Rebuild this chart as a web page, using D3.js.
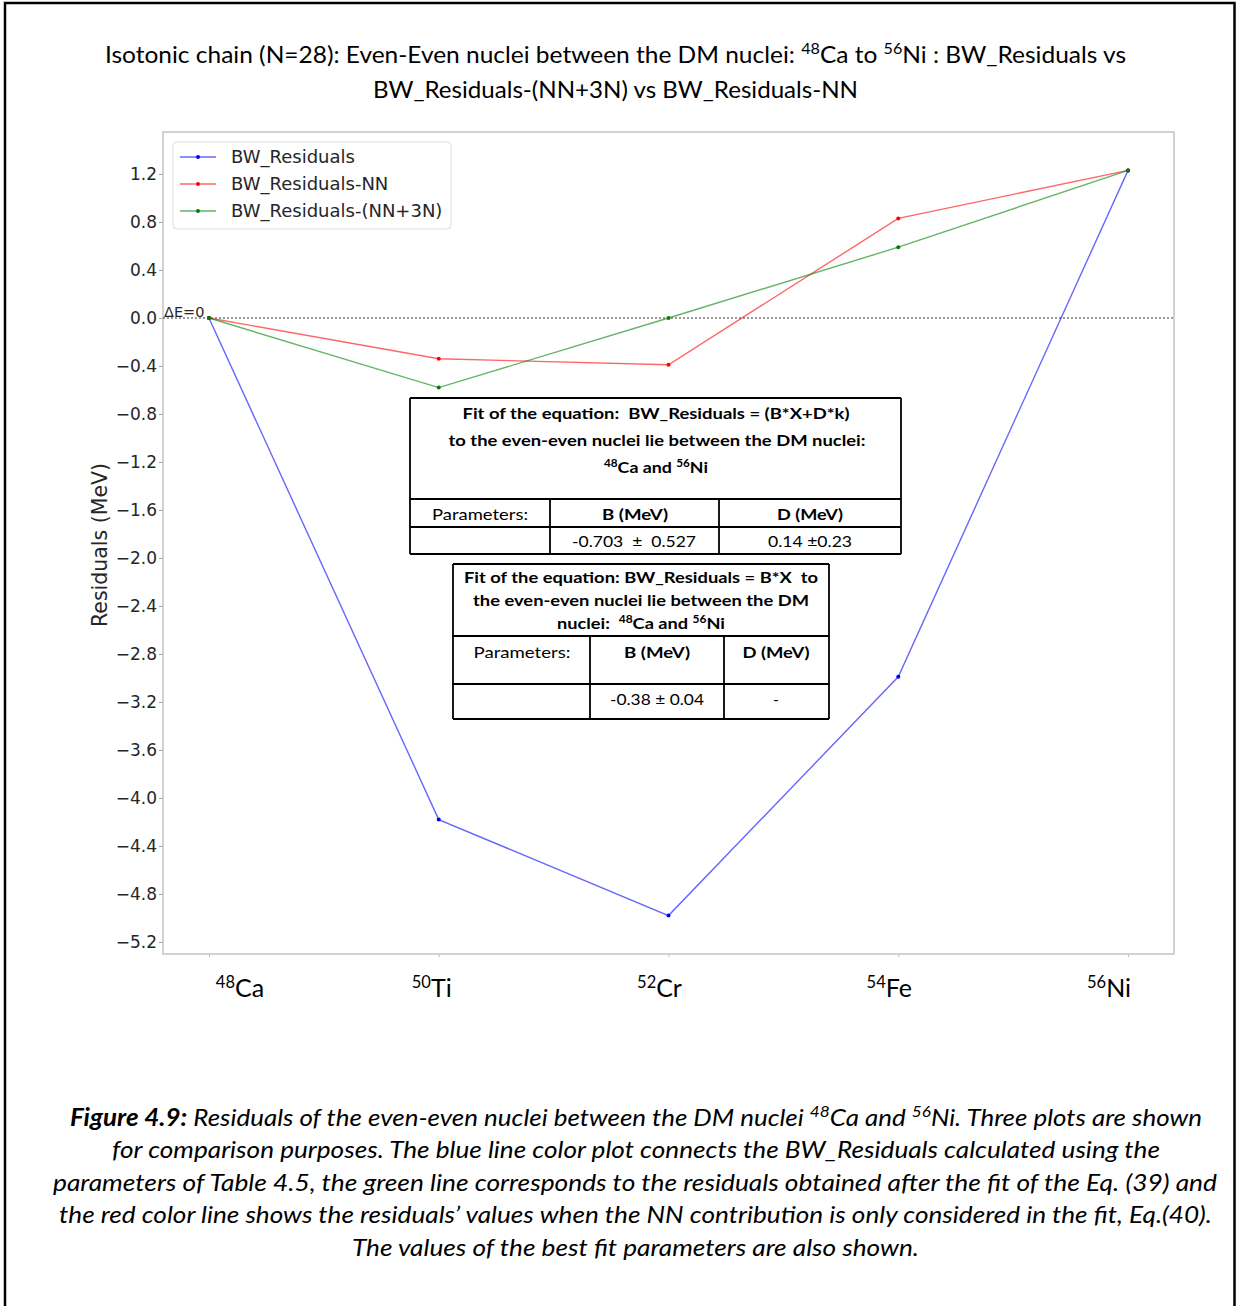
<!DOCTYPE html>
<html>
<head>
<meta charset="utf-8">
<script src="https://cdn.jsdelivr.net/npm/d3@7"></script>
<style>
  body { margin: 0; background: #fff; }
  svg { display: block; }
  text { white-space: pre; }
</style>
</head>
<body>
<script>
// values
const nuclei = ['Ca', 'Ti', 'Cr', 'Fe', 'Ni'];
const massNumbers = ['48', '50', '52', '54', '56'];
const bwResiduals = [0.0, -4.18, -4.98, -2.99, 1.23];
const bwResidualsNN = [0.0, -0.34, -0.39, 0.83, 1.23];
const bwResidualsNN3N = [0.0, -0.58, 0.0, 0.59, 1.23];
const yTicks = [-5.2, -4.8, -4.4, -4.0, -3.6, -3.2, -2.8, -2.4, -2.0, -1.6, -1.2, -0.8, -0.4, 0.0, 0.4, 0.8, 1.2];
const seriesNames = ['BW_Residuals', 'BW_Residuals-NN', 'BW_Residuals-(NN+3N)'];
const seriesColors = ['blue', 'red', 'green'];
const labelNudge = [31, -7, -9, -9, -19];

const W = 1236, H = 1306;
const plotFont = '"DejaVu Sans", sans-serif';
const docFont = 'Lato, "Open Sans", sans-serif';
const ink = '#262626';

const svg = d3.select('body').append('svg')
    .attr('width', W)
    .attr('height', H);

svg.append('rect').attr('width', W).attr('height', H).attr('fill', '#fff');

// page frame
svg.append('path')
    .attr('d', 'M5,1306 V3 H1234.5 V1306')
    .attr('fill', 'none')
    .attr('stroke', '#000')
    .attr('stroke-width', 2.5);

// text with superscripts: parts = [[text, isSup], ...]
function rich(sel, parts, size) {
    let raised = false;
    parts.forEach(p => {
        const ts = sel.append('tspan').text(p[0]);
        if (p[1] && !raised) { ts.attr('dy', -size * 0.38).attr('font-size', size * 0.66); raised = true; }
        else if (p[1]) { ts.attr('font-size', size * 0.66); }
        else if (raised) { ts.attr('dy', size * 0.38); raised = false; }
    });
    return sel;
}

function line(x, y, parts, opts) {
    const t = svg.append('text')
        .attr('x', x).attr('y', y)
        .attr('font-family', opts.font || docFont)
        .attr('font-size', opts.size)
        .attr('font-weight', opts.bold ? 'bold' : 'normal')
        .attr('font-style', opts.italic ? 'italic' : 'normal')
        .attr('text-anchor', opts.anchor || 'middle')
        .attr('fill', opts.fill || '#000');
    rich(t, parts, opts.size);
    if (opts.width) t.attr('textLength', opts.width).attr('lengthAdjust', 'spacingAndGlyphs');
    return t;
}

// title
line(615.5, 63, [['Isotonic chain (N=28): Even-Even nuclei between the DM nuclei: '], ['48', 1], ['Ca to '], ['56', 1], ['Ni : BW_Residuals vs']], {size: 23, width: 1021});
line(615.5, 98, [['BW_Residuals-(NN+3N) vs BW_Residuals-NN']], {size: 23, width: 485});

// plot area
const pLeft = 163, pRight = 1174, pTop = 132, pBottom = 954;
const x = d3.scaleLinear().domain([-0.2, 4.2]).range([pLeft, pRight]);
const y = d3.scaleLinear().domain([1.55, -5.3]).range([pTop, pBottom]);

const yAxis = d3.axisLeft(y).tickValues(yTicks).tickFormat(d3.format('.1f')).tickSize(4).tickPadding(2);
const gy = svg.append('g').attr('transform', `translate(${pLeft},0)`).call(yAxis);
gy.select('.domain').remove();
gy.selectAll('.tick line').attr('stroke', '#aaa');
gy.selectAll('.tick text').attr('font-family', plotFont).attr('font-size', 17).attr('fill', ink);

const xAxis = d3.axisBottom(x).tickValues(d3.range(nuclei.length)).tickFormat('').tickSize(3);
const gx = svg.append('g').attr('transform', `translate(0,${pBottom})`).call(xAxis);
gx.select('.domain').remove();
gx.selectAll('.tick line').attr('stroke', '#bbb');

svg.append('rect')
    .attr('x', pLeft).attr('y', pTop)
    .attr('width', pRight - pLeft).attr('height', pBottom - pTop)
    .attr('fill', 'none')
    .attr('stroke', '#c4c4c4')
    .attr('stroke-width', 1.5);

// x labels
nuclei.forEach((n, i) => {
    line(x(i) + labelNudge[i], 997, [[massNumbers[i], 1], [n]], {size: 25});
});

// y label
svg.append('text')
    .attr('transform', `translate(107,545) rotate(-90)`)
    .attr('text-anchor', 'middle')
    .attr('font-family', plotFont)
    .attr('font-size', 20.5)
    .attr('fill', ink)
    .text('Residuals (MeV)');

// zero line
svg.append('line')
    .attr('x1', pLeft).attr('x2', pRight)
    .attr('y1', y(0)).attr('y2', y(0))
    .attr('stroke', '#333')
    .attr('stroke-width', 1)
    .attr('stroke-dasharray', '2,2');
svg.append('text')
    .attr('x', pLeft + 1).attr('y', y(0) - 1)
    .attr('font-family', plotFont)
    .attr('font-size', 14.5)
    .attr('fill', ink)
    .text('ΔE=0');

// series
const series = [bwResiduals, bwResidualsNN, bwResidualsNN3N];
const path = d3.line().x((d, i) => x(i)).y(d => y(d));
series.forEach((vals, s) => {
    svg.append('path')
        .attr('d', path(vals))
        .attr('fill', 'none')
        .attr('stroke', seriesColors[s])
        .attr('stroke-opacity', 0.6)
        .attr('stroke-width', 1.4);
    svg.selectAll(null).data(vals).enter().append('circle')
        .attr('cx', (d, i) => x(i))
        .attr('cy', d => y(d))
        .attr('r', 2)
        .attr('fill', seriesColors[s]);
});

// legend
const lg = svg.append('g').attr('transform', 'translate(173,142)');
lg.append('rect')
    .attr('width', 278).attr('height', 87).attr('rx', 4)
    .attr('fill', '#fff').attr('fill-opacity', 0.8)
    .attr('stroke', '#ddd');
seriesNames.forEach((name, s) => {
    const yy = 15 + s * 27;
    lg.append('line').attr('x1', 7).attr('x2', 43).attr('y1', yy).attr('y2', yy)
        .attr('stroke', seriesColors[s]).attr('stroke-opacity', 0.6).attr('stroke-width', 1.4);
    lg.append('circle').attr('cx', 25).attr('cy', yy).attr('r', 2).attr('fill', seriesColors[s]);
    lg.append('text').attr('x', 58).attr('y', yy + 6)
        .attr('font-family', plotFont).attr('font-size', 18).attr('fill', ink)
        .text(name);
});

// fit tables
function grid(segs) {
    segs.forEach(s => {
        svg.append('line')
            .attr('x1', s[0]).attr('y1', s[1]).attr('x2', s[2]).attr('y2', s[3])
            .attr('stroke', '#000').attr('stroke-width', 1.8);
    });
}

svg.append('rect').attr('x', 410).attr('y', 398).attr('width', 491).attr('height', 156).attr('fill', '#fff');
grid([[410, 398, 901, 398], [410, 499, 901, 499], [410, 527, 901, 527], [410, 554, 901, 554],
      [410, 398, 410, 554], [901, 398, 901, 554], [550, 499, 550, 554], [719, 499, 719, 554]]);
line(656, 419, [['Fit of the equation:  BW_Residuals = (B*X+D*k)']], {size: 16, bold: true, width: 387});
line(657, 446, [['to the even-even nuclei lie between the DM nuclei:']], {size: 16, bold: true, width: 417});
line(656, 473, [['48', 1], ['Ca and '], ['56', 1], ['Ni']], {size: 16, bold: true, width: 104});
line(480, 520, [['Parameters:']], {size: 16, width: 96});
line(635, 520, [['B (MeV)']], {size: 16, bold: true, width: 66});
line(810, 520, [['D (MeV)']], {size: 16, bold: true, width: 66});
line(634, 547, [['-0.703  ±  0.527']], {size: 16, width: 124});
line(810, 547, [['0.14 ±0.23']], {size: 16, width: 84});

svg.append('rect').attr('x', 453).attr('y', 564).attr('width', 376).attr('height', 155).attr('fill', '#fff');
grid([[453, 564, 829, 564], [453, 636, 829, 636], [453, 684, 829, 684], [453, 719, 829, 719],
      [453, 564, 453, 719], [829, 564, 829, 719], [590, 636, 590, 719], [724, 636, 724, 719]]);
line(641, 583, [['Fit of the equation: BW_Residuals = B*X  to']], {size: 16, bold: true, width: 354});
line(641, 606, [['the even-even nuclei lie between the DM']], {size: 16, bold: true, width: 336});
line(641, 629, [['nuclei:  '], ['48', 1], ['Ca and '], ['56', 1], ['Ni']], {size: 16, bold: true, width: 168});
line(522, 658, [['Parameters:']], {size: 16, width: 97});
line(657, 658, [['B (MeV)']], {size: 16, bold: true, width: 66});
line(776, 658, [['D (MeV)']], {size: 16, bold: true, width: 67});
line(657, 705, [['-0.38 ± 0.04']], {size: 16, width: 94});
line(776, 705, [['-']], {size: 16});

// caption
const cap = line(636, 1126, [['Figure 4.9:']], {size: 24, italic: true, bold: true});
cap.append('tspan').attr('font-weight', 'normal').text(' Residuals of the even-even nuclei between the DM nuclei ');
rich(cap, [['48', 1], ['Ca and '], ['56', 1], ['Ni. Three plots are shown']], 24);
cap.selectAll('tspan').filter((d, i) => i > 0).attr('font-weight', 'normal');
cap.attr('textLength', 1132).attr('lengthAdjust', 'spacingAndGlyphs');
line(636, 1158, [['for comparison purposes. The blue line color plot connects the BW_Residuals calculated using the']], {size: 24, italic: true, width: 1048});
line(635, 1191, [['parameters of Table 4.5, the green line corresponds to the residuals obtained after the fit of the Eq. (39) and']], {size: 24, italic: true, width: 1164});
line(635.5, 1223, [['the red color line shows the residuals’ values when the NN contribution is only considered in the fit, Eq.(40).']], {size: 24, italic: true, width: 1153});
line(635.5, 1256, [['The values of the best fit parameters are also shown.']], {size: 24, italic: true, width: 567});
</script>
</body>
</html>
